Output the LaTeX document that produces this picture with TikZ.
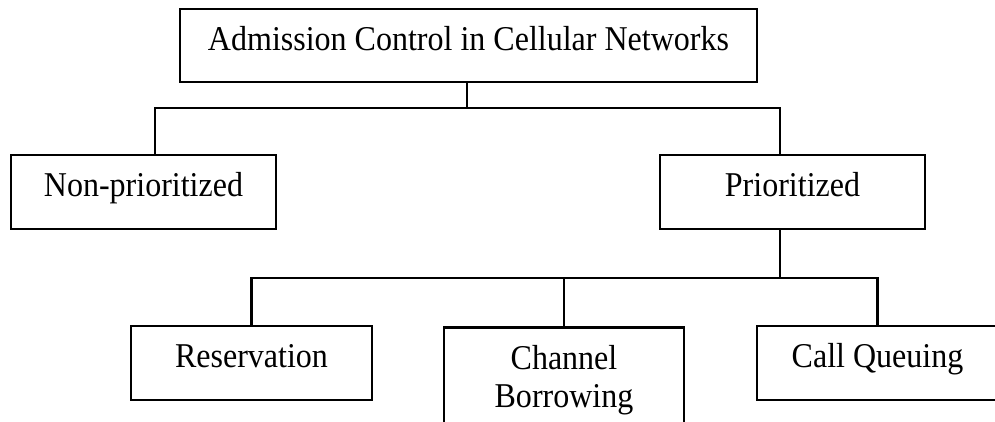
\documentclass[tikz,border=0pt]{standalone}
\usepackage{fontspec}
\setmainfont[FakeStretch=0.92]{Liberation Serif}
\usetikzlibrary{calc, positioning}

\begin{document}
\begin{tikzpicture}[
  box/.style={draw, line width=0.8pt, inner sep=0pt, minimum height=0.74cm, align=center,
    font=\fontsize{9.9}{10.8}\selectfont},
  oneline/.style={box, text height=0.24cm, text depth=0.14cm},
  link/.style={line width=0.6pt}
]
\clip (0,0) rectangle (9.95,4.22);
% Root and first level
\node[oneline, minimum width=5.77cm, minimum height=0.73cm] (root) at (4.685,3.765) {Admission Control in Cellular Networks};
\node[oneline, minimum width=2.65cm] (nonprio) at (1.435,2.30) {Non-prioritized};
\node[oneline, minimum width=2.65cm] (prio) at (7.925,2.30) {Prioritized};

% Second level
\node[oneline, minimum width=2.41cm] (reserve) at (2.515,0.59) {Reservation};
\node[box, minimum width=2.40cm, minimum height=1.05cm, anchor=north] (borrow) at (5.64,0.96) {Channel\\Borrowing};
\node[oneline, minimum width=2.41cm] (queue) at (8.775,0.59) {Call Queuing};

% Connectors
\coordinate (bar1) at ($(root.south)+(-0.015,-0.25)$);
\coordinate (bar2) at ($(prio.south)+(-0.125,-0.48)$);
\draw[link] (root.south -| bar1) -- (bar1);
\draw[link] (bar1) -| ([xshift=0.115cm]nonprio.north);
\draw[link] (bar1) -| ([xshift=-0.125cm]prio.north);
\draw[link] ([xshift=-0.125cm]prio.south) -- (bar2);
\draw[link] (bar2) -| (reserve.north);
\draw[link] (bar2) -| (queue.north);
\draw[link] (borrow.north) -- (borrow.north |- bar2);
\end{tikzpicture}
\end{document}
